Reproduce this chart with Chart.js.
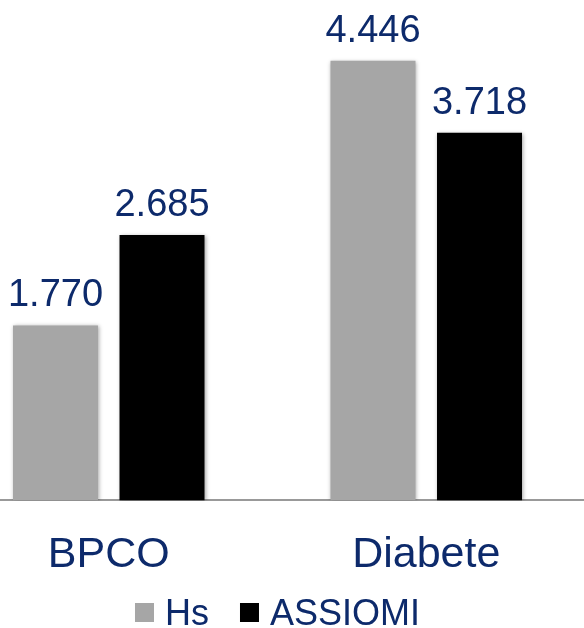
<!DOCTYPE html>
<html>
<head>
<meta charset="utf-8">
<script src="https://cdn.jsdelivr.net/npm/chart.js@4/dist/chart.umd.min.js"></script>
<style>
  html, body { margin: 0; padding: 0; background: #fff; overflow: hidden; }
  #wrap { position: absolute; left: -50px; top: 0; width: 635px; height: 628px; }
</style>
</head>
<body>
<div id="wrap"><canvas id="chart"></canvas></div>
<script>
// categories and series
const categories = ["BPCO", "Diabete"];
const hsValues = [1770, 4446];
const assiomiValues = [2685, 3718];
const seriesNames = ["Hs", "ASSIOMI"];
const seriesColors = ["#a6a6a6", "#000000"];

const navy = "#0d2a6b";
const fontFamily = "'Liberation Sans', Arial, sans-serif";

// 1770 -> "1.770"
function formatIt(v) {
  return String(v).replace(/\B(?=(\d{3})+(?!\d))/g, ".");
}

// soft shadow under the bars
const barShadow = {
  id: "barShadow",
  beforeDatasetsDraw(chart) {
    const ctx = chart.ctx;
    ctx.save();
    ctx.shadowColor = "rgba(0,0,0,0.35)";
    ctx.shadowBlur = 4;
    ctx.shadowOffsetX = 1;
    ctx.shadowOffsetY = 1;
  },
  afterDatasetsDraw(chart) {
    chart.ctx.restore();
  },
};

// value labels above each bar
const valueLabels = {
  id: "valueLabels",
  afterDatasetsDraw(chart) {
    const ctx = chart.ctx;
    ctx.save();
    ctx.font = "38px " + fontFamily;
    ctx.fillStyle = navy;
    ctx.textAlign = "center";
    ctx.textBaseline = "alphabetic";
    chart.data.datasets.forEach((ds, i) => {
      chart.getDatasetMeta(i).data.forEach((bar, j) => {
        ctx.fillText(formatIt(ds.data[j]), bar.x, bar.y - 19);
      });
    });
    ctx.restore();
  },
};

// compact legend at the bottom (square + name, tight spacing)
const bottomLegend = {
  id: "bottomLegend",
  afterDraw(chart) {
    const ctx = chart.ctx;
    const box = 19, gap = 11, itemGap = 31;
    ctx.save();
    ctx.font = "36px " + fontFamily;
    ctx.textBaseline = "alphabetic";
    ctx.textAlign = "left";
    const items = chart.data.datasets.map((ds) => ({
      text: ds.label,
      color: ds.backgroundColor,
      w: box + gap + ctx.measureText(ds.label).width,
    }));
    const total = items.reduce((s, it) => s + it.w, 0) + itemGap * (items.length - 1);
    let x = (chart.width - total) / 2 + 10;
    const baseY = chart.height - 3;
    items.forEach((it) => {
      ctx.fillStyle = it.color;
      ctx.fillRect(x, baseY - 22, box, box);
      ctx.fillStyle = navy;
      ctx.fillText(it.text, x + box + gap, baseY);
      x += it.w + itemGap;
    });
    ctx.restore();
  },
};

new Chart(document.getElementById("chart"), {
  type: "bar",
  data: {
    labels: categories,
    datasets: [
      {
        label: seriesNames[0],
        data: hsValues,
        backgroundColor: seriesColors[0],
        categoryPercentage: 0.671,
        barPercentage: 0.798,
      },
      {
        label: seriesNames[1],
        data: assiomiValues,
        backgroundColor: seriesColors[1],
        categoryPercentage: 0.671,
        barPercentage: 0.798,
      },
    ],
  },
  options: {
    responsive: true,
    maintainAspectRatio: false,
    animation: false,
    layout: { padding: { top: 6, left: 0, right: 0, bottom: 18 } },
    scales: {
      x: {
        grid: { display: false, drawTicks: false },
        border: { display: true, color: "#999999", width: 2 },
        ticks: {
          color: navy,
          padding: 29,
          font: { family: fontFamily, size: 43 },
        },
      },
      y: {
        display: false,
        min: 0,
        max: 5000,
      },
    },
    plugins: {
      tooltip: { enabled: false },
      legend: { display: false },
    },
  },
  plugins: [barShadow, valueLabels, bottomLegend],
});
</script>
</body>
</html>
